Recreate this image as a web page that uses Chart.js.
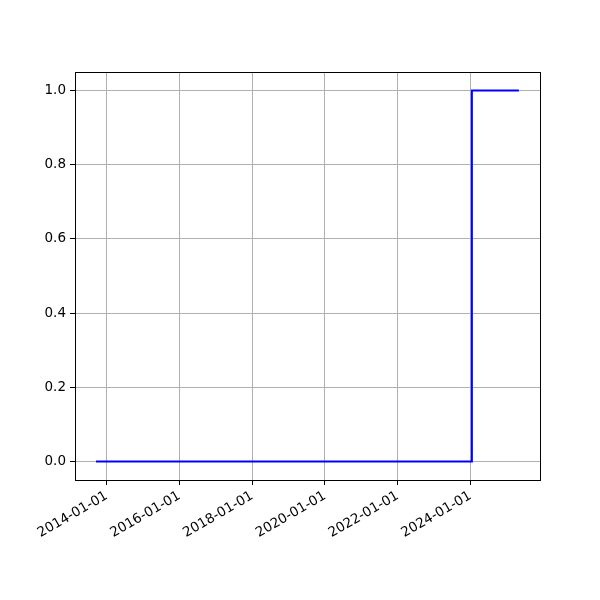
<!DOCTYPE html>
<html>
<head>
<meta charset="utf-8">
<script src="https://cdn.jsdelivr.net/npm/chart.js@4/dist/chart.umd.min.js"></script>
<style>
    html, body { margin: 0; padding: 0; background: #ffffff; }
    canvas { display: block; }
</style>
</head>
<body>
<canvas id="stepChart" width="600" height="600"></canvas>
<script>
    'use strict';

    // series: value changes from 0 to 1 on the step date
    var stepDates = ['2013-09-15', '2024-01-15', '2025-05-01'];
    var stepValues = [0, 1, 1];

    var xTickLabels = ['2014-01-01', '2016-01-01', '2018-01-01', '2020-01-01', '2022-01-01', '2024-01-01'];
    var yTickValues = [0, 0.2, 0.4, 0.6, 0.8, 1.0];

    var xLimits = ['2013-02-16', '2025-11-29'];
    var yLimits = [-0.05, 1.05];

    function toTime(dateText) {
        var parts = dateText.split('-');
        return Date.UTC(+parts[0], +parts[1] - 1, +parts[2]);
    }

    function formatDate(ms) {
        var d = new Date(ms);
        var mm = String(d.getUTCMonth() + 1).padStart(2, '0');
        var dd = String(d.getUTCDate()).padStart(2, '0');
        return d.getUTCFullYear() + '-' + mm + '-' + dd;
    }

    var frameBorder = {
        id: 'frameBorder',
        afterDraw: function (chart) {
            var area = chart.chartArea;
            var ctx = chart.ctx;
            ctx.save();
            ctx.strokeStyle = '#000000';
            ctx.lineWidth = 1;
            ctx.strokeRect(Math.round(area.left) + 0.5, Math.round(area.top) + 0.5,
                Math.round(area.right - area.left), Math.round(area.bottom - area.top));
            ctx.restore();
        }
    };

    Chart.defaults.font.family = '"DejaVu Sans", sans-serif';
    Chart.defaults.font.size = 13.5;
    Chart.defaults.color = '#000000';

    new Chart(document.getElementById('stepChart'), {
        type: 'line',
        data: {
            datasets: [{
                data: stepDates.map(function (d, i) { return { x: toTime(d), y: stepValues[i] }; }),
                borderColor: '#0000ff',
                borderWidth: 2,
                pointRadius: 0,
                fill: false,
                stepped: 'before'
            }]
        },
        plugins: [frameBorder],
        options: {
            responsive: false,
            animation: false,
            layout: { padding: { top: 72, right: 60, left: 0, bottom: 0 } },
            plugins: {
                legend: { display: false },
                tooltip: { enabled: false }
            },
            scales: {
                x: {
                    type: 'linear',
                    min: toTime(xLimits[0]),
                    max: toTime(xLimits[1]),
                    afterBuildTicks: function (axis) {
                        axis.ticks = xTickLabels.map(function (d) { return { value: toTime(d) }; });
                    },
                    afterFit: function (axis) { axis.height = 120; },
                    border: { display: false },
                    grid: { color: '#b0b0b0', lineWidth: 1, tickLength: 5, tickColor: '#000000' },
                    ticks: {
                        autoSkip: false,
                        minRotation: 30,
                        maxRotation: 30,
                        padding: 3,
                        callback: function (value) { return formatDate(value); }
                    }
                },
                y: {
                    min: yLimits[0],
                    max: yLimits[1],
                    afterBuildTicks: function (axis) {
                        axis.ticks = yTickValues.map(function (v) { return { value: v }; });
                    },
                    afterFit: function (axis) { axis.width = 75; },
                    border: { display: false },
                    grid: { color: '#b0b0b0', lineWidth: 1, tickLength: 5, tickColor: '#000000' },
                    ticks: {
                        padding: 4,
                        callback: function (value) { return value.toFixed(1); }
                    }
                }
            }
        }
    });
</script>
</body>
</html>
